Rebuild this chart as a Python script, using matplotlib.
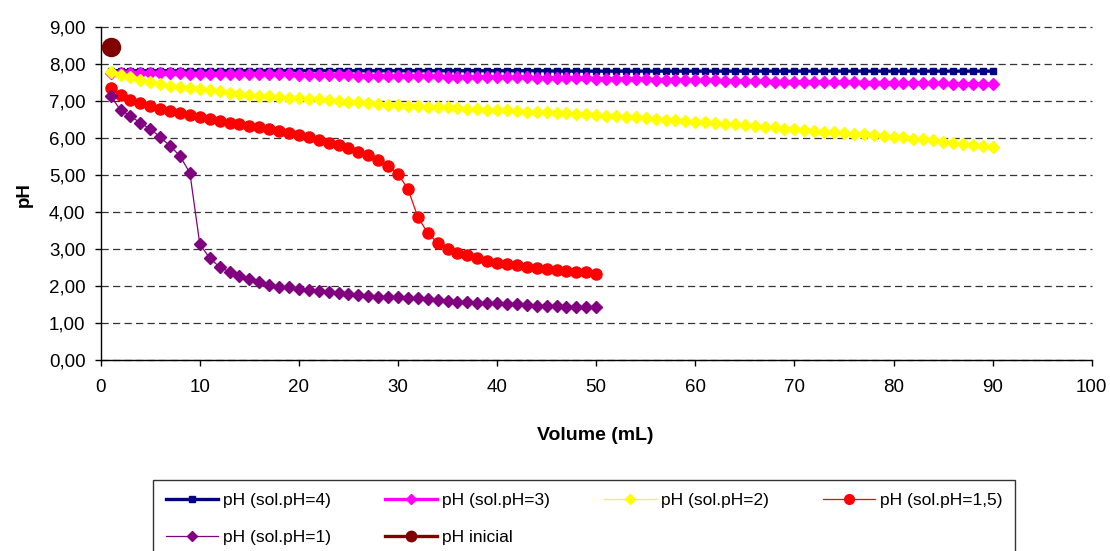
import matplotlib
matplotlib.use("Agg")
import matplotlib.pyplot as plt
from matplotlib.ticker import FuncFormatter, MultipleLocator

plt.rcParams['font.family'] = ['Liberation Sans', 'DejaVu Sans']

# ---------------- data ----------------
vol90 = list(range(1, 91))
vol50 = list(range(1, 51))

ph_sol4 = [7.81, 7.81, 7.81, 7.81, 7.81, 7.81, 7.81, 7.81, 7.81, 7.81,
           7.81, 7.81, 7.81, 7.81, 7.81, 7.81, 7.81, 7.81, 7.81, 7.81,
           7.81, 7.81, 7.81, 7.81, 7.81, 7.81, 7.81, 7.81, 7.81, 7.81,
           7.81, 7.81, 7.81, 7.81, 7.81, 7.81, 7.81, 7.81, 7.81, 7.81,
           7.81, 7.81, 7.81, 7.81, 7.81, 7.80, 7.80, 7.80, 7.80, 7.80,
           7.80, 7.80, 7.80, 7.80, 7.80, 7.80, 7.80, 7.80, 7.80, 7.80,
           7.80, 7.80, 7.80, 7.80, 7.80, 7.80, 7.80, 7.80, 7.80, 7.80,
           7.80, 7.80, 7.80, 7.80, 7.80, 7.80, 7.80, 7.80, 7.80, 7.80,
           7.80, 7.80, 7.80, 7.80, 7.80, 7.80, 7.80, 7.80, 7.80, 7.80]

ph_sol3 = [7.76, 7.76, 7.75, 7.75, 7.75, 7.74, 7.74, 7.74, 7.73, 7.73,
           7.73, 7.72, 7.72, 7.72, 7.72, 7.71, 7.71, 7.71, 7.71, 7.70,
           7.70, 7.70, 7.69, 7.69, 7.69, 7.68, 7.68, 7.68, 7.67, 7.67,
           7.67, 7.66, 7.66, 7.66, 7.65, 7.65, 7.65, 7.64, 7.64, 7.64,
           7.63, 7.63, 7.63, 7.62, 7.62, 7.62, 7.61, 7.61, 7.61, 7.60,
           7.60, 7.59, 7.59, 7.58, 7.58, 7.57, 7.57, 7.56, 7.56, 7.55,
           7.55, 7.55, 7.54, 7.54, 7.53, 7.53, 7.53, 7.52, 7.52, 7.52,
           7.51, 7.51, 7.51, 7.50, 7.50, 7.50, 7.49, 7.49, 7.49, 7.48,
           7.48, 7.48, 7.47, 7.47, 7.47, 7.46, 7.46, 7.46, 7.45, 7.45]

ph_sol2 = [7.77, 7.70, 7.63, 7.56, 7.50, 7.45, 7.41, 7.36, 7.34, 7.32,
           7.29, 7.26, 7.22, 7.19, 7.16, 7.14, 7.13, 7.11, 7.08, 7.07,
           7.05, 7.04, 7.02, 6.99, 6.98, 6.96, 6.93, 6.91, 6.89, 6.88,
           6.87, 6.86, 6.84, 6.83, 6.82, 6.80, 6.79, 6.78, 6.76, 6.75,
           6.74, 6.73, 6.71, 6.70, 6.69, 6.67, 6.66, 6.65, 6.63, 6.62,
           6.60, 6.58, 6.56, 6.55, 6.53, 6.51, 6.49, 6.47, 6.46, 6.44,
           6.42, 6.40, 6.38, 6.36, 6.34, 6.32, 6.30, 6.28, 6.25, 6.23,
           6.21, 6.19, 6.17, 6.15, 6.13, 6.11, 6.09, 6.07, 6.05, 6.03,
           6.01, 5.98, 5.96, 5.93, 5.90, 5.87, 5.84, 5.81, 5.78, 5.74]

ph_sol15 = [7.35, 7.16, 7.03, 6.94, 6.85, 6.78, 6.72, 6.66, 6.61, 6.56,
            6.51, 6.46, 6.41, 6.36, 6.32, 6.29, 6.25, 6.19, 6.14, 6.08,
            6.02, 5.95, 5.87, 5.80, 5.72, 5.63, 5.53, 5.40, 5.24, 5.02,
            4.62, 3.86, 3.43, 3.16, 3.00, 2.89, 2.83, 2.75, 2.68, 2.63,
            2.59, 2.56, 2.52, 2.49, 2.47, 2.42, 2.40, 2.38, 2.37, 2.32]

ph_sol1 = [7.13, 6.75, 6.59, 6.40, 6.24, 6.02, 5.78, 5.51, 5.05, 3.13,
           2.75, 2.51, 2.38, 2.27, 2.19, 2.11, 2.03, 1.97, 1.96, 1.92,
           1.88, 1.86, 1.84, 1.80, 1.78, 1.75, 1.74, 1.71, 1.71, 1.69,
           1.68, 1.67, 1.64, 1.62, 1.60, 1.57, 1.56, 1.55, 1.53, 1.53,
           1.51, 1.50, 1.49, 1.47, 1.47, 1.46, 1.44, 1.44, 1.44, 1.42]

vol_inicial = [1]
ph_inicial = [8.45]

labels = ['pH (sol.pH=4)', 'pH (sol.pH=3)', 'pH (sol.pH=2)',
          'pH (sol.pH=1,5)', 'pH (sol.pH=1)', 'pH inicial']

# ---------------- figure ----------------
W, H = 1110, 551
fig = plt.figure(figsize=(W / 100, H / 100), dpi=100)
ax_left, ax_right = 100.7 / W, 1091.7 / W
ax_top, ax_bot = 1 - 26.7 / H, 1 - 360 / H
ax = fig.add_axes([ax_left, ax_bot, ax_right - ax_left, ax_top - ax_bot])

h4, = ax.plot(vol90, ph_sol4, color='#000080', lw=2.4, marker='s', ms=4.8,
              label=labels[0], zorder=3)
h3, = ax.plot(vol90, ph_sol3, color='#FF00FF', lw=2.4, marker='D', ms=6.2,
              label=labels[1], zorder=4)
h2, = ax.plot(vol90, ph_sol2, color='#FFFF00', lw=0.9, marker='D', ms=6.2,
              label=labels[2], zorder=5)
h15, = ax.plot(vol50, ph_sol15, color='#FF0000', lw=0.9, marker='o', ms=8,
               label=labels[3], zorder=6)
h1, = ax.plot(vol50, ph_sol1, color='#800080', lw=0.9, marker='D', ms=6.2,
              label=labels[4], zorder=7)
hi, = ax.plot(vol_inicial, ph_inicial, color='#800000', lw=2.4, marker='o',
              ms=13, label=labels[5], zorder=8)

ax.set_xlim(0, 100)
ax.set_ylim(0, 9)
ax.xaxis.set_major_locator(MultipleLocator(10))
ax.yaxis.set_major_locator(MultipleLocator(1))
ax.yaxis.set_major_formatter(FuncFormatter(lambda v, p: f"{v:.2f}".replace('.', ',')))

for s in ['top', 'right']:
    ax.spines[s].set_visible(False)
for s in ['left', 'bottom']:
    ax.spines[s].set_linewidth(1.0)
    ax.spines[s].set_color('black')

ax.tick_params(axis='both', direction='out', length=4, width=1, colors='black',
               labelsize=13.5)
ax.tick_params(axis='y', pad=7)
ax.tick_params(axis='x', pad=10)

ax.set_axisbelow(True)
ax.yaxis.grid(True, color='#333333', lw=0.9, linestyle=(0, (5.8, 3.4)))
ax.xaxis.grid(False)
for gl in ax.yaxis.get_gridlines():
    gl.set_clip_on(False)

fig.text(24 / W, 1 - 195 / H, 'pH', rotation=90, ha='center', va='center',
         fontsize=13.5, fontweight='bold')
fig.text(595 / W, 1 - 435 / H, 'Volume (mL)', ha='center', va='center',
         fontsize=14, fontweight='bold')

order = [h4, h1, h3, hi, h2, h15]
leg = fig.legend(handles=order, labels=[h.get_label() for h in order],
                 loc='upper left', bbox_to_anchor=(153 / W, 1 - 480 / H),
                 ncol=4, fontsize=12.5, frameon=True, fancybox=False,
                 edgecolor='black', handlelength=3.0, handletextpad=0.3,
                 columnspacing=3.1, labelspacing=1.3, borderpad=0.72,
                 borderaxespad=0)
leg.get_frame().set_linewidth(1.0)
legend_ms = [4.5, 5.5, 5.5, 7.5, 5.5, 7.0]
for lh, ms in zip(leg.legend_handles, legend_ms):
    lh.set_markersize(ms)

fig.savefig('out.png', dpi=100)
